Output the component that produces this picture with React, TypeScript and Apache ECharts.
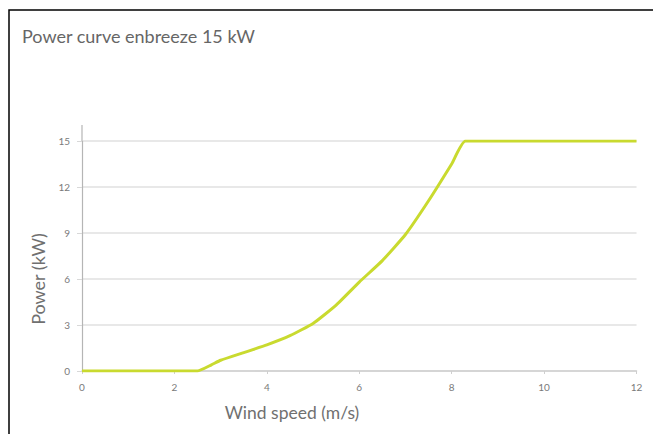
import React, { useEffect, useRef } from "react";
import * as echarts from "echarts";

const windSpeed = [0, 2.5, 2.8, 3, 3.5, 4, 4.5, 5, 5.5, 6, 6.5, 7, 7.5, 8, 8.3, 12];
const powerKW = [0, 0, 0.4, 0.7, 1.2, 1.7, 2.3, 3.1, 4.3, 5.8, 7.2, 8.9, 11.1, 13.5, 15, 15];
const xTicks = [0, 2, 4, 6, 8, 10, 12];
const yTicks = [0, 3, 6, 9, 12, 15];

export default function App() {
  const ref = useRef<HTMLDivElement>(null);
  useEffect(() => {
    if (!ref.current) return;
    const chart = echarts.init(ref.current, null, { renderer: "svg" });
    const data = windSpeed.map((x, i) => [x, powerKW[i]]);
    chart.setOption({
      animation: false,
      backgroundColor: "#ffffff",
      textStyle: { fontFamily: "Lato" },
      grid: { left: 82, right: 16.5, top: 141, bottom: 63 },
      xAxis: {
        type: "value",
        min: xTicks[0],
        max: xTicks[xTicks.length - 1],
        interval: 2,
        axisLine: { show: true, lineStyle: { color: "#cfcfcf", width: 1.5 } },
        axisTick: { show: true, length: 3, lineStyle: { color: "#cfcfcf" } },
        axisLabel: { color: "#7a7a7a", fontSize: 10, margin: 11, fontFamily: "Lato" },
        splitLine: { show: false },
      },
      yAxis: {
        type: "value",
        min: yTicks[0],
        max: yTicks[yTicks.length - 1],
        interval: 3,
        axisLine: { show: true, lineStyle: { color: "#b5b5b5", width: 1.2 } },
        axisTick: { show: true, length: 5, lineStyle: { color: "#d8d8d8" } },
        axisLabel: { color: "#7a7a7a", fontSize: 10, margin: 12, fontFamily: "Lato" },
        splitLine: { show: true, lineStyle: { color: "#e0e0e0", width: 1.5 } },
      },
      series: [
        {
          type: "line",
          data,
          showSymbol: false,
          smooth: 0.15,
          lineStyle: { color: "#c9da2f", width: 3 },
        },
      ],
      graphic: [
        {
          type: "rect",
          shape: { x: 9, y: 10, width: 700, height: 500 },
          style: { fill: "none", stroke: "#000000", lineWidth: 1.5 },
          silent: true,
        },
        {
          type: "line",
          shape: { x1: 82, y1: 125, x2: 82, y2: 141 },
          style: { stroke: "#b5b5b5", lineWidth: 1.2 },
        },
        {
          type: "text",
          x: 22,
          y: 36,
          style: {
            text: "Power curve enbreeze 15 kW",
            fill: "#666666",
            fontSize: 18,
            fontFamily: "Lato",
            verticalAlign: "middle",
            align: "left",
          },
        },
        {
          type: "text",
          x: 38,
          y: 279,
          rotation: Math.PI / 2,
          style: {
            text: "Power (kW)",
            fill: "#707070",
            fontSize: 18,
            fontFamily: "Lato",
            verticalAlign: "middle",
            align: "center",
          },
        },
        {
          type: "text",
          x: 292,
          y: 412,
          style: {
            text: "Wind speed (m/s)",
            fill: "#707070",
            fontSize: 17.5,
            fontFamily: "Lato",
            verticalAlign: "middle",
            align: "center",
          },
        },
      ],
    });
    return () => chart.dispose();
  }, []);
  return (
    <div
      ref={ref}
      style={{ position: "absolute", left: 0, top: 0, width: 653, height: 434, background: "#fff" }}
    />
  );
}
